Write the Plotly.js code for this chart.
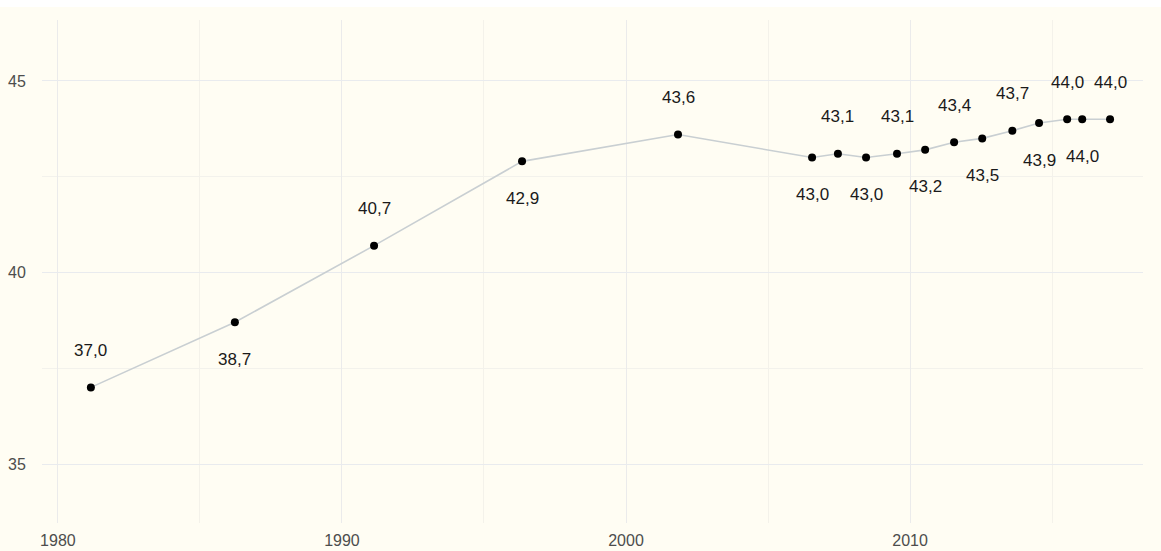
<!DOCTYPE html>
<html>
<head>
<meta charset="utf-8">
<script src="https://cdn.plot.ly/plotly-3.0.1.min.js"></script>
<style>
  html, body { margin: 0; padding: 0; background: #ffffff; }
  #chart { width: 1161px; height: 544px; margin-top: 7px; }
</style>
</head>
<body>
<div id="chart"></div>
<script>
// Data
const years = [1981.16, 1986.23, 1991.13, 1996.34, 2001.83, 2006.55, 2007.46, 2008.45, 2009.54,
               2010.53, 2011.55, 2012.54, 2013.6, 2014.54, 2015.53, 2016.06, 2017.04];
const values = [37.0, 38.7, 40.7, 42.9, 43.6, 43.0, 43.1, 43.0, 43.1,
                43.2, 43.4, 43.5, 43.7, 43.9, 44.0, 44.0, 44.0];
const labelSide = [1, -1, 1, -1, 1, -1, 1, -1, 1, -1, 1, -1, 1, -1, 1, -1, 1]; // 1 above, -1 below
const xTicks = [1980, 1990, 2000, 2010];
const yTicks = [35, 40, 45];

const labels = values.map(v => v.toFixed(1).replace('.', ','));

const traces = [
  {
    x: years, y: values, type: 'scatter', mode: 'lines',
    line: { color: '#c9cfd2', width: 1.6 },
    hoverinfo: 'skip', showlegend: false
  },
  {
    x: years, y: values, type: 'scatter', mode: 'markers',
    marker: { color: '#000000', size: 8 },
    showlegend: false
  }
];

const annotations = years.map((x, i) => ({
  x: x, y: values[i], xref: 'x', yref: 'y',
  text: labels[i], showarrow: false,
  yshift: 37 * labelSide[i],
  font: { family: 'Liberation Sans, Arial, sans-serif', size: 17, color: '#1a1a1a' }
}));

const layout = {
  width: 1161, height: 544,
  paper_bgcolor: '#fffdf3', plot_bgcolor: '#fffdf3',
  margin: { l: 42, r: 18, t: 13, b: 28 },
  font: { family: 'Liberation Sans, Arial, sans-serif' },
  xaxis: {
    range: [1979.44, 2018.2],
    tickvals: xTicks, ticktext: xTicks.map(String),
    showgrid: true, gridcolor: '#ebebeb', gridwidth: 1,
    minor: { dtick: 5, tick0: 1975, showgrid: true, gridcolor: '#f4f2ea', gridwidth: 1 },
    zeroline: false, showline: false,
    ticks: 'outside', ticklen: 3, tickcolor: 'rgba(0,0,0,0)',
    tickfont: { size: 16, color: '#4d4d4d' }
  },
  yaxis: {
    range: [33.46, 46.59],
    tickvals: yTicks, ticktext: yTicks.map(String),
    showgrid: true, gridcolor: '#e9ebee', gridwidth: 1,
    minor: { dtick: 2.5, tick0: 35, showgrid: true, gridcolor: '#f3f2ec', gridwidth: 1 },
    zeroline: false, showline: false,
    ticks: 'outside', ticklen: 12, tickcolor: 'rgba(0,0,0,0)',
    tickfont: { size: 16, color: '#4d4d4d' }
  },
  annotations: annotations,
  showlegend: false
};

Plotly.newPlot('chart', traces, layout, { displayModeBar: false, staticPlot: true });
</script>
</body>
</html>
